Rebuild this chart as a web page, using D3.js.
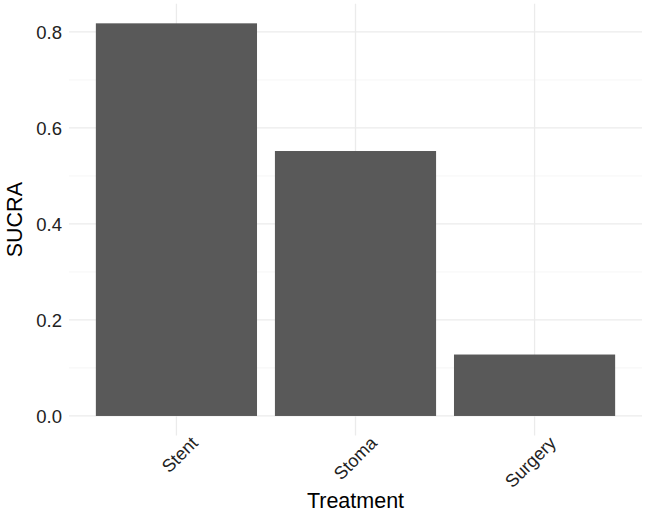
<!DOCTYPE html>
<html><head><meta charset="utf-8">
<script src="https://cdn.jsdelivr.net/npm/d3@7"></script>
<style>body{margin:0;background:#fff}svg{display:block}text{font-family:"Liberation Sans",Arial,sans-serif}</style>
</head><body><svg id="c" width="645" height="514"></svg>
<script>
const categories = ["Stent", "Stoma", "Surgery"];
const sucra = [0.818, 0.552, 0.128];
const yTicks = [0.0, 0.2, 0.4, 0.6, 0.8];
const yMinor = [0.1, 0.3, 0.5, 0.7];

(function () {
const svg = d3.select("#c");
const pL = 69, pR = 642, pT = 3.7, pB = 435.6;

const yMax = d3.max(sucra);
const y = d3.scaleLinear().domain([-0.05 * yMax, 1.05 * yMax]).range([pB, pT]);
// ggplot discrete expansion: 0.6 units each side, bar width 0.9
const x = d3.scalePoint().domain(categories).range([pL, pR]).padding(0.6);
const unit = x.step();
const cx = d => x(d);
const bw = unit * 0.9;

const g = svg.append("g");
g.selectAll(".minor").data(yMinor).join("line")
  .attr("x1", pL).attr("x2", pR)
  .attr("y1", d => y(d)).attr("y2", d => y(d))
  .attr("stroke", "#f2f2f2").attr("stroke-width", 0.8);
g.selectAll(".major").data(yTicks).join("line")
  .attr("x1", pL).attr("x2", pR)
  .attr("y1", d => y(d)).attr("y2", d => y(d))
  .attr("stroke", "#ebebeb").attr("stroke-width", 1.3);
g.selectAll(".vmajor").data(categories).join("line")
  .attr("x1", d => cx(d)).attr("x2", d => cx(d))
  .attr("y1", pT).attr("y2", pB)
  .attr("stroke", "#ebebeb").attr("stroke-width", 1.3);

g.selectAll(".bar").data(categories).join("rect")
  .attr("x", d => cx(d) - bw / 2)
  .attr("width", bw)
  .attr("y", (d, i) => y(sucra[i]))
  .attr("height", (d, i) => y(0) - y(sucra[i]))
  .attr("fill", "#595959");

g.selectAll(".yl").data(yTicks).join("text")
  .attr("x", pL - 7).attr("y", d => y(d))
  .attr("dy", "0.36em").attr("text-anchor", "end")
  .attr("font-size", 18.5).attr("fill", "#222")
  .text(d => d.toFixed(1));

g.selectAll(".xl").data(categories).join("text")
  .attr("transform", d => `translate(${cx(d) + 13},${pB - 1}) rotate(-45)`)
  .attr("text-anchor", "end").attr("dy", "0.75em")
  .attr("font-size", 18).attr("fill", "#222")
  .text(d => d);

svg.append("text").attr("x", (pL + pR) / 2).attr("y", 508)
  .attr("text-anchor", "middle").attr("font-size", 21.5).attr("fill", "#000")
  .text("Treatment");
svg.append("text").attr("transform", `translate(22,${(pT + pB) / 2}) rotate(-90)`)
  .attr("text-anchor", "middle").attr("font-size", 21.5).attr("fill", "#000")
  .text("SUCRA");
})();
</script></body></html>
